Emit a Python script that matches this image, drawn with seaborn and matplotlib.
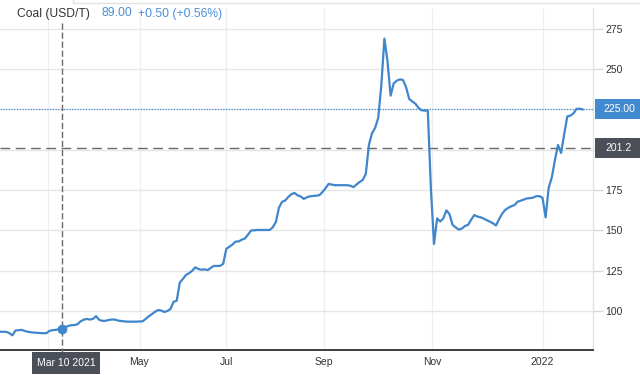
import numpy as np
import pandas as pd
import matplotlib
matplotlib.use("Agg")
import matplotlib.pyplot as plt
import matplotlib.transforms as mtransforms
from matplotlib.patches import Rectangle
from matplotlib.lines import Line2D
import seaborn as sns

# ---------------- data ----------------
prices = [
    87.0, 87.0, 87.0, 86.2, 84.8, 87.8, 88.0, 88.2, 87.5, 87.0,
    86.7, 86.5, 86.4, 86.2, 86.1, 86.2, 87.6, 88.0, 88.2, 88.6,
    89.0, 89.8, 90.6, 91.1, 91.2, 91.7, 93.5, 94.5, 95.0, 94.6,
    95.0, 96.7, 94.4, 93.8, 93.8, 94.3, 94.6, 94.6, 94.0, 93.7,
    93.5, 93.3, 93.3, 93.3, 93.3, 93.4, 93.5, 95.0, 96.6, 98.0,
    99.4, 100.5, 100.2, 99.3, 99.9, 101.2, 105.6, 106.3, 117.5, 119.8,
    122.3, 123.4, 124.9, 127.0, 126.0, 125.5, 125.8, 125.3, 126.7, 127.9,
    127.9, 127.9, 129.2, 138.5, 139.8, 141.2, 143.0, 143.1, 144.2, 144.9,
    147.3, 149.9, 150.0, 150.2, 150.2, 150.2, 150.2, 150.2, 151.9, 155.2,
    164.2, 167.7, 168.5, 170.7, 172.4, 173.2, 171.7, 171.0, 169.5, 170.5,
    171.1, 171.3, 171.5, 171.8, 173.7, 176.1, 178.8, 178.4, 178.0, 178.0,
    178.0, 178.0, 178.0, 177.7, 176.8, 178.4, 180.0, 181.2, 185.0, 203.0,
    210.2, 213.6, 219.7, 239.8, 269.0, 255.0, 233.6, 241.2, 242.9, 243.7,
    243.3, 238.8, 231.5, 230.0, 228.6, 226.0, 224.5, 224.3, 224.3, 176.0,
    141.5, 157.4, 155.5, 157.4, 162.4, 160.0, 153.3, 151.8, 150.4, 151.1,
    152.7, 153.4, 156.6, 159.5, 158.5, 158.1, 157.3, 156.3, 155.4, 154.4,
    153.0, 156.9, 160.4, 162.7, 164.0, 165.0, 165.7, 167.8, 168.4, 169.1,
    169.8, 170.0, 170.3, 171.2, 171.2, 170.2, 158.0, 176.5, 182.8, 193.5,
    203.0, 198.0, 209.7, 220.7, 221.2, 222.6, 225.4, 225.5, 225.0,
]
obs = list(range(len(prices)))

month_ticks = [15.5, 45, 73, 104.5, 139.5, 175]
month_labels = ["", "May", "Jul", "Sep", "Nov", "2022"]
y_ticks = [100, 125, 150, 175, 200, 225, 250, 275]
y_labels = ["100", "125", "150", "175", "", "", "250", "275"]

hover_idx = 20
hover_label = "Mar 10 2021"
hover_level = 201.2
hover_level_label = "201.2"
last_price = 225.00
last_price_label = "225.00"
title = "Coal (USD/T)"
quote = "89.00"
change = "+0.50 (+0.56%)"

# ---------------- style ----------------
sns.set_theme(style="white")
plt.rcParams["font.family"] = ["Liberation Sans", "DejaVu Sans"]

LINE = "#3f86cc"
BLUE_TXT = "#4a8fd6"
DARK_BOX = "#4b4f58"

W, H = 640, 375
fig = plt.figure(figsize=(6.4, 3.75), dpi=100)
ax = fig.add_axes([0, 25 / H, 593 / W, 342 / H])

df = pd.DataFrame({"obs": obs, "price": prices})
sns.lineplot(data=df, x="obs", y="price", ax=ax, color=LINE, linewidth=1.6, zorder=4)
sns.scatterplot(x=[obs[hover_idx]], y=[prices[hover_idx]], ax=ax, s=42,
                color=LINE, edgecolor=LINE, zorder=6, legend=False)

ymin, ymax = 75.7, 288.0
ax.set_xlim(0, 593 / 3.1)
ax.set_ylim(ymin, ymax)
ax.set_xlabel("")
ax.set_ylabel("")

ax.set_xticks(month_ticks)
ax.set_xticklabels(month_labels)
ax.set_yticks(y_ticks)
ax.set_yticklabels(y_labels)
ax.yaxis.tick_right()
ax.tick_params(axis="y", length=7, width=1, color="#d9d9d9", pad=2,
               labelsize=7.5, labelcolor="#333333", right=True, left=False)
ax.tick_params(axis="x", length=0, pad=5, labelsize=7.5, labelcolor="#333333")

ax.yaxis.grid(True, color="#e6e6e6", linewidth=1)
ax.xaxis.grid(True, color="#edf0f2", linewidth=1)
ax.set_axisbelow(True)

for s in ["left", "top"]:
    ax.spines[s].set_visible(False)
ax.spines["right"].set_color("#e3e3e3")
ax.spines["right"].set_linewidth(1)
ax.spines["bottom"].set_color("#3c3c3c")
ax.spines["bottom"].set_linewidth(1.4)

# reference lines
ax.axhline(last_price, color=BLUE_TXT, lw=0.9, ls=(0, (1, 1.2)), zorder=3)
ax.axhline(hover_level, color="#6a6a6a", lw=1.0, ls=(0, (7, 4)), zorder=3)

# vertical crosshair (extends past the axes)
tr_xd = mtransforms.blended_transform_factory(ax.transData, fig.transFigure)
ax.add_line(Line2D([hover_idx, hover_idx], [1 - 23 / H, 0], transform=tr_xd,
                   color="#6a6a6a", lw=1.0, ls=(0, (4.5, 2)), clip_on=False, zorder=3))

# right-side value boxes
px_per_unit = 342 / (ymax - ymin)
tr_fy = mtransforms.blended_transform_factory(fig.transFigure, ax.transData)
box_h = 20 / px_per_unit
for val, lab, col in [(last_price, last_price_label, "#428ad0"),
                      (hover_level, hover_level_label, DARK_BOX)]:
    ax.add_patch(Rectangle((595 / W, val - box_h / 2), 45 / W, box_h,
                           transform=tr_fy, facecolor=col, edgecolor="none",
                           clip_on=False, zorder=7))
    ax.text(619 / W, val, lab, transform=tr_fy, ha="center", va="center",
            color="white", fontsize=7.5, clip_on=False, zorder=8)

# bottom date box
ax.add_patch(Rectangle((hover_idx - 30 / 3.1, 1 / H), 68 / 3.1, 22 / H,
                       transform=tr_xd, facecolor=DARK_BOX, edgecolor="none",
                       clip_on=False, zorder=7))
ax.text(hover_idx + 4 / 3.1, 12.5 / H, hover_label, transform=tr_xd,
        ha="center", va="center", color="white", fontsize=7.5, clip_on=False, zorder=8)

# header
ty = 1 - 13.5 / H
fig.text(17 / W, ty, title, ha="left", va="center", fontsize=8.7, color="#333333")
fig.text(101 / W, ty, quote, ha="left", va="center", fontsize=8.7, color=BLUE_TXT)
fig.text(138 / W, ty, change, ha="left", va="center", fontsize=8.7, color=BLUE_TXT)

# faint top frame edge
fig.add_artist(Line2D([73 / W, 1], [1 - 3 / H, 1 - 3 / H], transform=fig.transFigure,
                      color="#e2e2e2", lw=1))
fig.add_artist(Line2D([73 / W, 73 / W], [1 - 3 / H, 1], transform=fig.transFigure,
                      color="#e2e2e2", lw=1))

fig.savefig("out.png", dpi=100, facecolor="white")
